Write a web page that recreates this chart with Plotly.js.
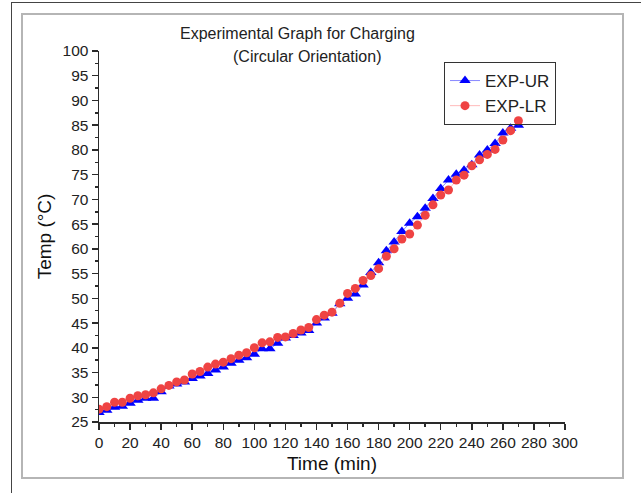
<!DOCTYPE html>
<html>
<head>
<meta charset="utf-8">
<script src="https://cdn.plot.ly/plotly-3.0.1.min.js"></script>
<style>
  html, body { margin: 0; padding: 0; background: #ffffff; }
  #wrap { position: relative; width: 641px; height: 493px; overflow: hidden; background: #fff; }
  #outer { position: absolute; left: 11px; top: 2px; width: 640px; height: 500px; border: 1px solid #444; box-sizing: border-box; }
  #inner { position: absolute; left: 21px; top: 13px; width: 603px; height: 466px; border: 2px solid #b5b5b5; box-sizing: border-box; }
  #chart { position: absolute; left: 0; top: 0; width: 641px; height: 493px; }
</style>
</head>
<body>
<div id="wrap">
  <div id="outer"></div>
  <div id="inner"></div>
  <div id="chart"></div>
</div>
<script>
const timeMin = [0, 5, 10, 15, 20, 25, 30, 35, 40, 45, 50, 55, 60, 65, 70, 75, 80, 85, 90, 95,
  100, 105, 110, 115, 120, 125, 130, 135, 140, 145, 150, 155, 160, 165, 170, 175, 180, 185, 190, 195,
  200, 205, 210, 215, 220, 225, 230, 235, 240, 245, 250, 255, 260, 265, 270];

const expUR = [26.9, 27.4, 28.0, 28.2, 28.8, 29.4, 29.8, 29.8, 31.1, 32.3, 32.7, 33.1, 33.8, 34.3, 34.8, 35.5, 36.1, 36.9, 37.5, 38.0,
  38.7, 39.8, 39.8, 40.9, 42.0, 42.5, 43.0, 43.5, 45.0, 46.0, 47.0, 48.9, 50.0, 50.9, 52.7, 55.2, 57.2, 59.6, 61.4, 63.5,
  65.2, 66.5, 68.2, 70.2, 72.2, 73.9, 75.1, 75.9, 77.0, 79.0, 80.0, 81.3, 83.4, 84.4, 85.0];

const expLR = [27.6, 28.1, 29.0, 29.0, 29.8, 30.3, 30.5, 30.9, 31.7, 32.4, 33.1, 33.5, 34.7, 35.2, 36.1, 36.7, 37.1, 37.8, 38.5, 39.0,
  40.0, 41.0, 41.2, 42.1, 42.2, 42.9, 43.6, 44.1, 45.7, 46.6, 47.2, 49.0, 51.0, 52.0, 53.6, 54.6, 56.0, 58.5, 60.0, 62.0,
  63.0, 64.8, 66.8, 68.9, 70.9, 71.9, 73.9, 74.9, 76.8, 78.0, 79.1, 80.1, 82.0, 83.9, 85.9];

const seriesNames = ['EXP-UR', 'EXP-LR'];
const titleLines = ['Experimental Graph for Charging', '(Circular Orientation)'];
const xTitle = 'Time (min)';
const yTitle = 'Temp (°C)';

const FONT = 'Arial, "Liberation Sans", sans-serif';

const traces = [
  {
    x: timeMin, y: expUR, name: seriesNames[0], type: 'scatter', mode: 'lines+markers',
    line: { color: 'rgba(40,40,255,0.55)', width: 1 },
    marker: { symbol: 'triangle-up', size: 10, color: '#0000ff' }
  },
  {
    x: timeMin, y: expLR, name: seriesNames[1], type: 'scatter', mode: 'lines+markers',
    line: { color: 'rgba(255,120,120,0.5)', width: 1 },
    marker: { symbol: 'circle', size: 9, color: '#ef4343' }
  }
];

const axisCommon = {
  showgrid: false, zeroline: false, showline: true, linecolor: '#2a2a2a', linewidth: 1.5,
  ticks: 'outside', ticklen: 6, tickwidth: 1.5, tickcolor: '#2a2a2a',
  tickfont: { family: FONT, size: 15.5, color: '#222' },
  mirror: false
};

const layout = {
  width: 641, height: 493,
  margin: { l: 99, r: 76, t: 51, b: 71, pad: 0 },
  paper_bgcolor: 'rgba(0,0,0,0)',
  plot_bgcolor: 'rgba(0,0,0,0)',
  font: { family: FONT, color: '#222' },
  showlegend: true,
  legend: {
    x: (444 - 99) / 466, y: (422 - 62) / 371, xanchor: 'left', yanchor: 'top',
    bgcolor: 'rgba(255,255,255,0)', bordercolor: '#333', borderwidth: 1,
    font: { family: FONT, size: 17, color: '#222' },
    tracegroupgap: 0
  },
  xaxis: Object.assign({}, axisCommon, {
    range: [0, 300], dtick: 20, tick0: 0,
    minor: { dtick: 10, ticks: 'outside', ticklen: 3, tickwidth: 1.5, tickcolor: '#2a2a2a' },
    title: { text: xTitle, font: { family: FONT, size: 19, color: '#111' }, standoff: 6 }
  }),
  yaxis: Object.assign({}, axisCommon, {
    range: [25, 100], dtick: 5, tick0: 25,
    minor: { dtick: 2.5, ticks: 'outside', ticklen: 3, tickwidth: 1.5, tickcolor: '#2a2a2a' },
    title: { text: yTitle, font: { family: FONT, size: 19, color: '#111' }, standoff: 6 }
  }),
  annotations: [
    { text: titleLines[0], xref: 'paper', yref: 'paper', x: (297 - 99) / 466, y: (422 - 33) / 371,
      xanchor: 'center', yanchor: 'middle', showarrow: false, font: { family: FONT, size: 16, color: '#222' } },
    { text: titleLines[1], xref: 'paper', yref: 'paper', x: (307 - 99) / 466, y: (422 - 56) / 371,
      xanchor: 'center', yanchor: 'middle', showarrow: false, font: { family: FONT, size: 16, color: '#222' } }
  ]
};

Plotly.newPlot('chart', traces, layout, { displayModeBar: false, staticPlot: true });
</script>
</body>
</html>
